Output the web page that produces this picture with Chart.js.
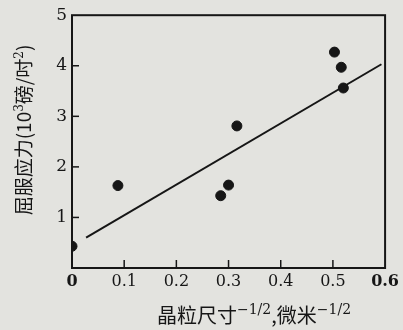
<!DOCTYPE html>
<html>
<head>
<meta charset="utf-8">
<script src="https://cdn.jsdelivr.net/npm/chart.js@4.4.1/dist/chart.umd.min.js"></script>
<style>
html, body { margin: 0; padding: 0; background: #e3e3df; }
canvas { display: block; }
</style>
</head>
<body>
<canvas id="grainChart" width="403" height="330"></canvas>
<script>
// grain size^-1/2 (um^-1/2) vs yield stress (10^3 lb/in^2)
var grainX = [0, 0.088, 0.285, 0.30, 0.316, 0.503, 0.516, 0.52];
var stressY = [0.43, 1.63, 1.43, 1.64, 2.81, 4.27, 3.97, 3.56];
// fitted line end points
var fitX = [0.027, 0.593];
var fitY = [0.60, 4.03];
var xTicks = [0, 0.1, 0.2, 0.3, 0.4, 0.5, 0.6];
var yTicks = [1, 2, 3, 4, 5];

var ink = '#161616';
var serif = "'DejaVu Serif', 'Liberation Serif', serif";
var cjk = "'Noto Sans CJK SC', sans-serif";

// frame, inward ticks and axis titles
var framePlugin = {
    id: 'frame',
    afterDraw: function (chart) {
        var c = chart.ctx, a = chart.chartArea;
        var xs = chart.scales.x, ys = chart.scales.y;
        c.save();
        c.strokeStyle = ink;
        c.lineWidth = 2;
        c.strokeRect(a.left, a.top, a.right - a.left, a.bottom - a.top);
        c.lineWidth = 1.5;
        xTicks.slice(1, -1).forEach(function (v) {
            var px = xs.getPixelForValue(v);
            c.beginPath(); c.moveTo(px, a.bottom); c.lineTo(px, a.bottom - 8); c.stroke();
        });
        yTicks.slice(0, -1).forEach(function (v) {
            var py = ys.getPixelForValue(v);
            c.beginPath(); c.moveTo(a.left, py); c.lineTo(a.left + 7, py); c.stroke();
        });

        c.fillStyle = ink;
        c.textBaseline = 'alphabetic';
        // x title with superscripts
        var parts = [
            ['晶粒尺寸', 20, cjk, 0],
            ['−1/2', 14, serif, -9],
            [',微米', 20, cjk, 0],
            ['−1/2', 14, serif, -9]
        ];
        var total = 0;
        parts.forEach(function (p) { c.font = p[1] + 'px ' + p[2]; total += c.measureText(p[0]).width; });
        var x = 254 - total / 2, y = 323;
        parts.forEach(function (p) {
            c.font = p[1] + 'px ' + p[2];
            c.textAlign = 'left';
            c.fillText(p[0], x, y + p[3]);
            x += c.measureText(p[0]).width;
        });

        // y title, rotated
        c.translate(31, 130);
        c.rotate(-Math.PI / 2);
        var yparts = [
            ['屈服应力(10', 19, cjk, 0],
            ['3', 12, serif, -8],
            ['磅/吋', 19, cjk, 0],
            ['2', 12, serif, -8],
            [')', 19, cjk, 0]
        ];
        total = 0;
        yparts.forEach(function (p) { c.font = p[1] + 'px ' + p[2]; total += c.measureText(p[0]).width; });
        x = -total / 2;
        yparts.forEach(function (p) {
            c.font = p[1] + 'px ' + p[2];
            c.fillText(p[0], x, p[3]);
            x += c.measureText(p[0]).width;
        });
        c.restore();
    }
};

var ctx = document.getElementById('grainChart').getContext('2d');
var grainChart = new Chart(ctx, {
    type: 'scatter',
    data: {
        datasets: [{
            label: 'data',
            data: grainX.map(function (v, i) { return { x: v, y: stressY[i] }; }),
            backgroundColor: ink,
            borderColor: ink,
            pointRadius: 5,
            pointHoverRadius: 5
        }, {
            type: 'line',
            label: 'fit',
            data: fitX.map(function (v, i) { return { x: v, y: fitY[i] }; }),
            borderColor: ink,
            borderWidth: 2,
            pointRadius: 0,
            fill: false
        }]
    },
    options: {
        responsive: false,
        animation: false,
        layout: {
            padding: { left: 0, top: 11, right: 14, bottom: 0 }
        },
        plugins: {
            legend: { display: false },
            tooltip: { enabled: false }
        },
        scales: {
            x: {
                type: 'linear',
                min: 0,
                max: 0.6,
                afterFit: function (s) { s.height = 62; },
                afterBuildTicks: function (s) { s.ticks = xTicks.map(function (v) { return { value: v }; }); },
                grid: { display: false, drawTicks: false },
                border: { display: false },
                ticks: {
                    padding: 4,
                    color: ink,
                    font: function (c) {
                        var v = c.tick ? c.tick.value : 1;
                        return { family: serif, size: 16, weight: (v === 0 || v === 0.6) ? 'bold' : 'normal' };
                    },
                    callback: function (v) { return v === 0 ? '0' : v.toFixed(1); }
                }
            },
            y: {
                min: 0,
                max: 5,
                afterFit: function (s) { s.width = 72; },
                afterBuildTicks: function (s) { s.ticks = yTicks.map(function (v) { return { value: v }; }); },
                grid: { display: false, drawTicks: false },
                border: { display: false },
                ticks: {
                    padding: 5,
                    color: ink,
                    font: { family: serif, size: 17 }
                }
            }
        }
    },
    plugins: [framePlugin]
});
</script>
</body>
</html>
